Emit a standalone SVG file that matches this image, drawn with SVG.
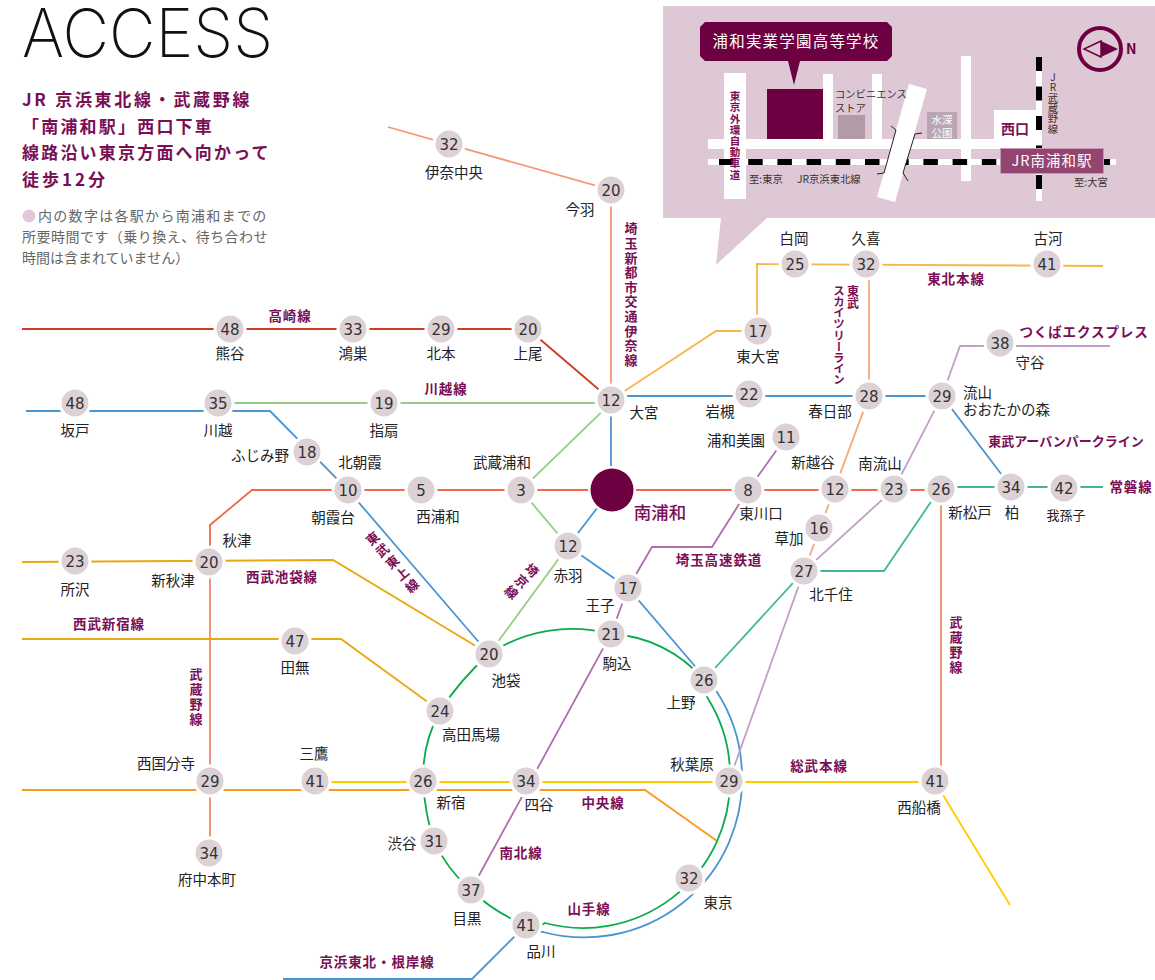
<svg xmlns="http://www.w3.org/2000/svg" width="1155" height="980" viewBox="0 0 1155 980">
<style>
text{font-family:"Noto Sans CJK JP","Noto Sans",sans-serif}
.st{font-size:14.500px;fill:#222;text-anchor:middle}
.ln{font-size:13.500px;font-weight:700;fill:#7a0f55;text-anchor:middle;letter-spacing:.9px}
.v{writing-mode:vertical-rl;text-orientation:upright;text-anchor:start}
.num{font-family:"DejaVu Sans",sans-serif;font-size:15px;fill:#333;text-anchor:middle}
.n{fill:#dcd1d5;stroke:#fff;stroke-width:3}
.l{fill:none;stroke-width:1.800}
.road{fill:#fff}
.m{font-size:10.300px;fill:#333}
.head{font-size:17px;font-weight:700;fill:#7a0f55;letter-spacing:2.200px}
.note{font-size:14px;fill:#666}
</style>
<rect width="1155" height="980" fill="#fff"/>
<g id="title">
<text x="22" y="57" font-size="67" style="font-family:Inter,sans-serif;font-weight:200" fill="#111" textLength="251" lengthAdjust="spacingAndGlyphs">ACCESS</text>
<text class="head" x="22" y="106" style="letter-spacing:2.700px">JR 京浜東北線・武蔵野線</text>
<text class="head" x="22" y="133">「南浦和駅」西口下車</text>
<text class="head" x="22" y="159">線路沿い東京方面へ向かって</text>
<text class="head" x="22" y="186" style="letter-spacing:3px">徒歩12分</text>
<circle cx="29" cy="216" r="6.500" fill="#e0c8d8"/>
<text class="note" x="38" y="221" letter-spacing="1.300">内の数字は各駅から南浦和までの</text>
<text class="note" x="22" y="242" letter-spacing=".47">所要時間です（乗り換え、待ち合わせ</text>
<text class="note" x="22" y="263">時間は含まれていません）</text>
</g>
<g id="map">
<path d="M663 6H1155V218H767L716 265L721 218H663Z" fill="#dfc8d6"/>
<g class="road">
<rect x="708" y="139" width="334" height="10"/>
<rect x="708" y="159" width="408" height="6"/>
<rect x="724" y="73" width="22" height="126"/>
<rect x="823" y="74" width="10" height="65"/>
<rect x="872" y="74" width="10" height="65"/>
<rect x="961" y="56" width="10" height="125"/>
<rect x="1036" y="57" width="6" height="144"/>
<rect x="994" y="110" width="42" height="29"/>
</g>
<path d="M719 162H1110" stroke="#000" stroke-width="6" stroke-dasharray="14.500 14.700" fill="none"/>
<path d="M1039 57V197" stroke="#000" stroke-width="6" stroke-dasharray="14 15.500" fill="none"/>
<path d="M909 84L927 89L895 202L877 197Z" fill="#fff"/>
<path d="M891 126L896 130L884 173L877 174M922 133L915 134L903 173L908 181" fill="none" stroke="#222" stroke-width="1"/>
<rect x="767" y="89" width="56" height="50" fill="#6c0040"/>
<rect x="838" y="115" width="27" height="24" fill="#b19ba7"/>
<rect x="927" y="112" width="30" height="27" fill="#b9a6b2"/>
<text x="942" y="124" font-size="10.500" fill="#fff" text-anchor="middle">水深</text>
<text x="942" y="137" font-size="10.500" fill="#fff" text-anchor="middle">公園</text>
<text class="m" x="835" y="98">コンビニエンス</text>
<text class="m" x="835" y="112">ストア</text>
<text x="1001" y="134" font-size="14" font-weight="700" fill="#7a0f55">西口</text>
<text class="m" x="749" y="183">至:東京</text>
<text class="m" x="797" y="183">JR京浜東北線</text>
<text class="m" x="1074" y="186">至:大宮</text>
<text class="m v" x="1053" y="72">JR武蔵野線</text>
<text class="v" x="735" y="91" font-size="10.500" font-weight="700" fill="#7a0f55" style="letter-spacing:.7px">東京外環自動車道</text>
<path d="M705 22H887L892 27V56L887 61H800L794 85L788 61H705L700 56V27Z" fill="#6c0040"/>
<text x="796" y="47" font-size="15.500" fill="#fff" text-anchor="middle" letter-spacing="1.200">浦和実業学園高等学校</text>
<rect x="1000.500" y="148.500" width="103" height="25" fill="#934471" stroke="#c39ab2"/>
<text x="1052" y="166" font-size="14.500" fill="#fff" text-anchor="middle" letter-spacing="1">JR南浦和駅</text>
<circle cx="1100" cy="49" r="21" fill="none" stroke="#6c0040" stroke-width="4"/>
<path d="M1101 41L1084 49L1101 57Z" fill="none" stroke="#6c0040" stroke-width="1.500"/>
<path d="M1101 41L1118 49L1101 57Z" fill="#6c0040"/>
<text x="1126" y="54" font-size="14" font-weight="700" fill="#6c0040">N</text>
</g>
<g id="connectors" class="l">
<path class="l" stroke="#f4967a" d="M388 127L611 190V400"/>
<path class="l" stroke="#cc3d22" d="M22 329H528L611 400"/>
<path class="l" stroke="#96cc8a" d="M218 403H611L521 490L568 546L489 654"/>
<path class="l" stroke="#4a96d2" d="M26 411H270L348 490L489 654"/>
<path class="l" stroke="#4a96d2" d="M611 400V490L568 546L628 588L717 692A158 158 0 0 1 742 775A158 158 0 0 1 543 932Q532 930 526 925L472 979H283"/>
<path class="l" stroke="#4a96d2" d="M611 396H942L1011 487"/>
<path class="l" stroke="#ee6a48" d="M210 562V525L252 490H941"/>
<path class="l" stroke="#ef8a70" d="M210 853V562M941 489V781"/>
<path class="l" stroke="#e8a80f" d="M22 562L333 560L489 654"/>
<path class="l" stroke="#e8a80f" d="M22 639H341L440 711"/>
<path class="l" stroke="#ffcc00" d="M315 782H935L1010 905"/>
<path class="l" stroke="#f59c1a" d="M22 790H645L717 841"/>
<path class="l" stroke="#ad6fb0" d="M628 588L611 634L471 890"/>
<path class="l" stroke="#ad6fb0" d="M786 437L748 490L712 547H652L628 588"/>
<path class="l" stroke="#c49ec8" d="M1110 346H960L942 396L894 489L804 571L729 781"/>
<path class="l" stroke="#f6a67c" d="M869 264V396L804 571"/>
<path class="l" stroke="#f6b64e" d="M757 331V264L1103 266"/>
<path class="l" stroke="#f6b64e" d="M611 400L716 331H757"/>
<path class="l" stroke="#40b898" d="M1103 487H941L884 571H804L704 680"/>
<path class="l" stroke="#0aab4a" d="M489 654A150 150 0 0 1 611 634A130 130 0 0 1 704 680L707 697A148 148 0 0 1 730 781A147 147 0 0 1 545 923Q535 930 526 925A160 160 0 0 1 471 890A140 140 0 0 1 434 841Q425 815 423 781A140 140 0 0 1 440 711Q460 680 489 654"/>
</g>
<g id="line-labels">
<text class="ln" x="290" y="321">高崎線</text>
<text class="ln" x="446" y="394">川越線</text>
<text class="ln v" x="631" y="222" style="font-size:13px;letter-spacing:1.600px">埼玉新都市交通伊奈線</text>
<text class="ln" x="956" y="284">東北本線</text>
<text class="ln v" x="853" y="285" style="font-size:12px;letter-spacing:.5px">東武</text>
<text class="ln v" x="839" y="285" style="font-size:11.500px;letter-spacing:-.4px">スカイツリーライン</text>
<text class="ln" x="1084" y="337">つくばエクスプレス</text>
<text class="ln" x="1066" y="446" style="font-size:13px;letter-spacing:0">東武アーバンパークライン</text>
<text class="ln" x="1131" y="492">常磐線</text>
<text class="ln" x="719" y="565">埼玉高速鉄道</text>
<text class="ln" x="282" y="582">西武池袋線</text>
<text class="ln" x="109" y="629">西武新宿線</text>
<text class="ln v" x="196" y="668" style="font-size:13px;letter-spacing:1.800px">武蔵野線</text>
<text class="ln v" x="956" y="616" style="font-size:13px;letter-spacing:1.800px">武蔵野線</text>
<text class="ln" x="819" y="771">総武本線</text>
<text class="ln" x="603" y="808">中央線</text>
<text class="ln" x="521" y="858">南北線</text>
<text class="ln" x="589" y="914">山手線</text>
<text class="ln" x="377" y="967">京浜東北・根岸線</text>
<text class="ln v" transform="translate(393,563) rotate(-40)" style="text-anchor:middle;font-size:13px;letter-spacing:2.400px">東武東上線</text>
<text class="ln v" transform="translate(521,582) rotate(43)" style="text-anchor:middle;font-size:13px;letter-spacing:2px">埼京線</text>
</g>
<g id="n-inachuo"><circle class="n" cx="449" cy="144" r="15"/><text class="num" x="449" y="150">32</text><text class="st" x="454" y="178">伊奈中央</text></g>
<g id="n-konba"><circle class="n" cx="611" cy="190" r="15"/><text class="num" x="611" y="196">20</text><text class="st" x="580" y="215">今羽</text></g>
<g id="n-omiya"><circle class="n" cx="611" cy="400" r="15"/><text class="num" x="611" y="406">12</text><text class="st" x="644" y="418">大宮</text></g>
<g id="n-kumagaya"><circle class="n" cx="230" cy="329" r="15"/><text class="num" x="230" y="335">48</text><text class="st" x="230" y="359">熊谷</text></g>
<g id="n-konosu"><circle class="n" cx="353" cy="329" r="15"/><text class="num" x="353" y="335">33</text><text class="st" x="353" y="359">鴻巣</text></g>
<g id="n-kitamoto"><circle class="n" cx="441" cy="329" r="15"/><text class="num" x="441" y="335">29</text><text class="st" x="441" y="359">北本</text></g>
<g id="n-ageo"><circle class="n" cx="528" cy="329" r="15"/><text class="num" x="528" y="335">20</text><text class="st" x="528" y="359">上尾</text></g>
<g id="n-sakado"><circle class="n" cx="75" cy="403" r="15"/><text class="num" x="75" y="409">48</text><text class="st" x="75" y="436">坂戸</text></g>
<g id="n-kawagoe"><circle class="n" cx="218" cy="403" r="15"/><text class="num" x="218" y="409">35</text><text class="st" x="218" y="436">川越</text></g>
<g id="n-sashiogi"><circle class="n" cx="384" cy="403" r="15"/><text class="num" x="384" y="409">19</text><text class="st" x="384" y="436">指扇</text></g>
<g id="n-fujimino"><circle class="n" cx="307" cy="452" r="15"/><text class="num" x="307" y="458">18</text><text class="st" x="260" y="461">ふじみ野</text></g>
<g id="n-asakadai"><circle class="n" cx="348" cy="490" r="15"/><text class="num" x="348" y="496">10</text><text class="st" x="360" y="468">北朝霞</text><text class="st" x="333" y="523">朝霞台</text></g>
<g id="n-nishiurawa"><circle class="n" cx="421" cy="490" r="15"/><text class="num" x="421" y="496">5</text><text class="st" x="438" y="522">西浦和</text></g>
<g id="n-musashiurawa"><circle class="n" cx="521" cy="490" r="15"/><text class="num" x="521" y="496">3</text><text class="st" x="502" y="468">武蔵浦和</text></g>
<g id="n-minamiurawa"><circle cx="612" cy="490" r="24" fill="#fff"/><circle cx="612" cy="490" r="21.500" fill="#6c0040"/><text x="660" y="519" font-size="17.500" font-weight="500" fill="#7a0f55" text-anchor="middle">南浦和</text></g>
<g id="n-higashikawaguchi"><circle class="n" cx="748" cy="490" r="15"/><text class="num" x="748" y="496">8</text><text class="st" x="761" y="519">東川口</text></g>
<g id="n-shinkoshigaya"><circle class="n" cx="835" cy="489" r="15"/><text class="num" x="835" y="495">12</text><text class="st" x="813" y="468">新越谷</text></g>
<g id="n-minaminagareyama"><circle class="n" cx="894" cy="489" r="15"/><text class="num" x="894" y="495">23</text><text class="st" x="880" y="469">南流山</text></g>
<g id="n-shinmatsudo"><circle class="n" cx="941" cy="489" r="15"/><text class="num" x="941" y="495">26</text><text class="st" x="970" y="518">新松戸</text></g>
<g id="n-kashiwa"><circle class="n" cx="1011" cy="487" r="15"/><text class="num" x="1011" y="493">34</text><text class="st" x="1012" y="518">柏</text></g>
<g id="n-abiko"><circle class="n" cx="1064" cy="488" r="15"/><text class="num" x="1064" y="494">42</text><text class="st" x="1066" y="520" style="font-size:13px">我孫子</text></g>
<g id="n-urawamisono"><circle class="n" cx="786" cy="437" r="15"/><text class="num" x="786" y="443">11</text><text class="st" x="736" y="446">浦和美園</text></g>
<g id="n-soka"><circle class="n" cx="819" cy="528" r="15"/><text class="num" x="819" y="534">16</text><text class="st" x="789" y="544">草加</text></g>
<g id="n-kitasenju"><circle class="n" cx="804" cy="571" r="15"/><text class="num" x="804" y="577">27</text><text class="st" x="831" y="600">北千住</text></g>
<g id="n-moriya"><circle class="n" cx="1000" cy="343" r="15"/><text class="num" x="1000" y="349">38</text><text class="st" x="1030" y="368">守谷</text></g>
<g id="n-nagareyama"><circle class="n" cx="942" cy="396" r="15"/><text class="num" x="942" y="402">29</text><text class="st" x="963" y="398" style="text-anchor:start">流山</text><text class="st" x="963" y="415" style="text-anchor:start">おおたかの森</text></g>
<g id="n-kasukabe"><circle class="n" cx="869" cy="396" r="15"/><text class="num" x="869" y="402">28</text><text class="st" x="830" y="417">春日部</text></g>
<g id="n-iwatsuki"><circle class="n" cx="749" cy="394" r="15"/><text class="num" x="749" y="400">22</text><text class="st" x="720" y="417">岩槻</text></g>
<g id="n-higashiomiya"><circle class="n" cx="758" cy="331" r="15"/><text class="num" x="758" y="337">17</text><text class="st" x="758" y="362">東大宮</text></g>
<g id="n-shiraoka"><circle class="n" cx="795" cy="264" r="15"/><text class="num" x="795" y="270">25</text><text class="st" x="794" y="244">白岡</text></g>
<g id="n-kuki"><circle class="n" cx="866" cy="264" r="15"/><text class="num" x="866" y="270">32</text><text class="st" x="866" y="244">久喜</text></g>
<g id="n-koga"><circle class="n" cx="1047" cy="264" r="15"/><text class="num" x="1047" y="270">41</text><text class="st" x="1048" y="244">古河</text></g>
<g id="n-akabane"><circle class="n" cx="568" cy="546" r="15"/><text class="num" x="568" y="552">12</text><text class="st" x="568" y="581">赤羽</text></g>
<g id="n-oji"><circle class="n" cx="628" cy="588" r="15"/><text class="num" x="628" y="594">17</text><text class="st" x="600" y="611">王子</text></g>
<g id="n-komagome"><circle class="n" cx="611" cy="634" r="15"/><text class="num" x="611" y="640">21</text><text class="st" x="617" y="669">駒込</text></g>
<g id="n-ueno"><circle class="n" cx="704" cy="680" r="15"/><text class="num" x="704" y="686">26</text><text class="st" x="681" y="708">上野</text></g>
<g id="n-ikebukuro"><circle class="n" cx="489" cy="654" r="15"/><text class="num" x="489" y="660">20</text><text class="st" x="506" y="686">池袋</text></g>
<g id="n-takadanobaba"><circle class="n" cx="440" cy="711" r="15"/><text class="num" x="440" y="717">24</text><text class="st" x="471" y="740">高田馬場</text></g>
<g id="n-tokorozawa"><circle class="n" cx="75" cy="561" r="15"/><text class="num" x="75" y="567">23</text><text class="st" x="75" y="595">所沢</text></g>
<g id="n-shinakitsu"><circle class="n" cx="209" cy="562" r="15"/><text class="num" x="209" y="568">20</text><text class="st" x="237" y="546">秋津</text><text class="st" x="173" y="586">新秋津</text></g>
<g id="n-tanashi"><circle class="n" cx="295" cy="641" r="15"/><text class="num" x="295" y="647">47</text><text class="st" x="295" y="673">田無</text></g>
<g id="n-nishikokubunji"><circle class="n" cx="210" cy="781" r="15"/><text class="num" x="210" y="787">29</text><text class="st" x="166" y="769">西国分寺</text></g>
<g id="n-mitaka"><circle class="n" cx="315" cy="781" r="15"/><text class="num" x="315" y="787">41</text><text class="st" x="314" y="759">三鷹</text></g>
<g id="n-shinjuku"><circle class="n" cx="423" cy="781" r="15"/><text class="num" x="423" y="787">26</text><text class="st" x="451" y="808">新宿</text></g>
<g id="n-yotsuya"><circle class="n" cx="526" cy="781" r="15"/><text class="num" x="526" y="787">34</text><text class="st" x="539" y="810">四谷</text></g>
<g id="n-akihabara"><circle class="n" cx="729" cy="781" r="15"/><text class="num" x="729" y="787">29</text><text class="st" x="692" y="770">秋葉原</text></g>
<g id="n-nishifunabashi"><circle class="n" cx="935" cy="781" r="15"/><text class="num" x="935" y="787">41</text><text class="st" x="919" y="813">西船橋</text></g>
<g id="n-fuchuhonmachi"><circle class="n" cx="209" cy="853" r="15"/><text class="num" x="209" y="859">34</text><text class="st" x="207" y="885">府中本町</text></g>
<g id="n-shibuya"><circle class="n" cx="434" cy="841" r="15"/><text class="num" x="434" y="847">31</text><text class="st" x="402" y="849">渋谷</text></g>
<g id="n-meguro"><circle class="n" cx="471" cy="890" r="15"/><text class="num" x="471" y="896">37</text><text class="st" x="467" y="924">目黒</text></g>
<g id="n-shinagawa"><circle class="n" cx="526" cy="925" r="15"/><text class="num" x="526" y="931">41</text><text class="st" x="541" y="957">品川</text></g>
<g id="n-tokyo"><circle class="n" cx="689" cy="878" r="15"/><text class="num" x="689" y="884">32</text><text class="st" x="718" y="908">東京</text></g>
</svg>
